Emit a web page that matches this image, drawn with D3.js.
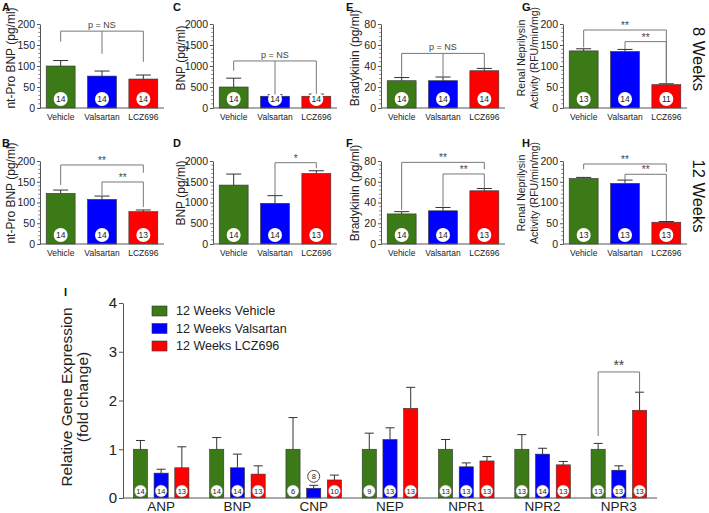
<!DOCTYPE html>
<html><head><meta charset="utf-8">
<script src="https://cdn.jsdelivr.net/npm/d3@7"></script>
<style>body{margin:0;background:#fff} svg{display:block;font-family:"Liberation Sans",Arial,sans-serif}</style>
</head><body><svg id="c" width="709" height="513"></svg>
<script>
// ---------- DATA ----------
const groups = ["Vehicle", "Valsartan", "LCZ696"];
const groupColors = ["#3c7a17", "#0000ff", "#ff0000"];

// 8 weeks
const ntProBNP8 = [100, 76, 69];      const ntProBNP8Sem = [13, 12, 9.5];    const ntProBNP8N = [14, 14, 14];
const bnp8 = [500, 280, 280];         const bnp8Sem = [210, 35, 50];         const bnp8N = [14, 14, 14];
const bradykinin8 = [26, 26, 35.5];   const bradykinin8Sem = [3, 3.5, 2.2];  const bradykinin8N = [14, 14, 14];
const nep8 = [136, 134.5, 55.5];      const nep8Sem = [5, 5, 2.2];           const nep8N = [13, 14, 11];
// 12 weeks
const ntProBNP12 = [122, 107.5, 78];  const ntProBNP12Sem = [8, 8, 4];       const ntProBNP12N = [14, 14, 13];
const bnp12 = [1420, 980, 1700];      const bnp12Sem = [265, 185, 65];       const bnp12N = [14, 14, 13];
const bradykinin12 = [29, 32, 51.3];  const bradykinin12Sem = [2.2, 3.2, 2.2]; const bradykinin12N = [14, 14, 13];
const nep12 = [158, 146, 52.5];       const nep12Sem = [2.5, 8, 1.7];        const nep12N = [13, 13, 13];

// significance brackets (data units): top of bracket, legs [groupIndex, leg end value]
const bracketsA = [{label: "p = NS", top: 183, legs: [[0, 158], [1, 129], [2, 110]]}];
const bracketsC = [{label: "p = NS", top: 1120, legs: [[0, 890], [1, 320], [2, 335]]}];
const bracketsE = [{label: "p = NS", top: 52, legs: [[0, 29.5], [1, 30], [2, 37.7]]}];
const bracketsG = [{label: "**", top: 185.7, legs: [[0, 144.5], [2, 58.8]]},
                   {label: "**", top: 158, legs: [[1, 140], [2, 58.8]]}];
const bracketsB = [{label: "**", top: 190.4, legs: [[0, 142], [2, 171.8]]},
                   {label: "**", top: 149.4, legs: [[1, 118], [2, 89]]}];
const bracketsD = [{label: "*", top: 1959, legs: [[1, 1180], [2, 1824]]}];
const bracketsF = [{label: "**", top: 78.7, legs: [[0, 32.8], [2, 72]]},
                   {label: "**", top: 67.5, legs: [[1, 36], [2, 53.7]]}];
const bracketsH = [{label: "**", top: 192.8, legs: [[0, 180], [2, 173.5]]},
                   {label: "**", top: 168, legs: [[1, 154], [2, 56]]}];

// panel I
const genes = ["ANP", "BNP", "CNP", "NEP", "NPR1", "NPR2", "NPR3"];
const geneSeries = ["12 Weeks Vehicle", "12 Weeks Valsartan", "12 Weeks LCZ696"];
const geneVehicle = [1, 1, 1, 1, 1, 1, 1];
const geneVehicleSem = [0.18, 0.24, 0.65, 0.33, 0.2, 0.3, 0.12];
const geneVehicleN = [14, 14, 6, 9, 13, 13, 13];
const geneValsartan = [0.51, 0.62, 0.2, 1.2, 0.64, 0.9, 0.57];
const geneValsartanSem = [0.08, 0.28, 0.06, 0.24, 0.08, 0.12, 0.09];
const geneValsartanN = [14, 14, 8, 13, 13, 14, 13];
const geneLCZ = [0.62, 0.49, 0.37, 1.84, 0.76, 0.68, 1.8];
const geneLCZSem = [0.43, 0.17, 0.1, 0.43, 0.09, 0.07, 0.37];
const geneLCZN = [13, 13, 10, 13, 13, 13, 13];
const geneBrackets = [{gene: "NPR3", label: "**", top: 2.585, legs: [[0, 1.27], [2, 2.17]]}];

// ---------- DRAW ----------
const svg = d3.select("#c");
const AX = "#555", BR = "#777", ERR = "#333";
const rows = [[108, 24], [244, 161]];

const panels = [
  {L: "A", row: 0, x0: 40, lx: 2, yMax: 200, major: 50, minor: 10, ylab: ["nt-Pro BNP (pg/ml)"], labX: [11], v: ntProBNP8, s: ntProBNP8Sem, n: ntProBNP8N, br: bracketsA},
  {L: "C", row: 0, x0: 213, lx: 173, yMax: 2000, major: 500, minor: 100, ylab: ["BNP (pg/ml)"], labX: [181], v: bnp8, s: bnp8Sem, n: bnp8N, br: bracketsC},
  {L: "E", row: 0, x0: 381, lx: 346, yMax: 80, major: 20, minor: 4, ylab: ["Bradykinin (pg/ml)"], labX: [355], v: bradykinin8, s: bradykinin8Sem, n: bradykinin8N, br: bracketsE},
  {L: "G", row: 0, x0: 563, lx: 522, yMax: 200, major: 50, minor: 10, ylab: ["Renal Neprilysin", "Activity (RFU/min/mg)"], labX: [521, 534], v: nep8, s: nep8Sem, n: nep8N, br: bracketsG},
  {L: "B", row: 1, x0: 40, lx: 2, yMax: 200, major: 50, minor: 10, ylab: ["nt-Pro BNP (pg/ml)"], labX: [11], v: ntProBNP12, s: ntProBNP12Sem, n: ntProBNP12N, br: bracketsB},
  {L: "D", row: 1, x0: 213, lx: 173, yMax: 2000, major: 500, minor: 100, ylab: ["BNP (pg/ml)"], labX: [181], v: bnp12, s: bnp12Sem, n: bnp12N, br: bracketsD},
  {L: "F", row: 1, x0: 381, lx: 346, yMax: 80, major: 20, minor: 4, ylab: ["Bradykinin (pg/ml)"], labX: [355], v: bradykinin12, s: bradykinin12Sem, n: bradykinin12N, br: bracketsF},
  {L: "H", row: 1, x0: 563, lx: 522, yMax: 200, major: 50, minor: 10, ylab: ["Renal Neprilysin", "Activity (RFU/min/mg)"], labX: [521, 534], v: nep12, s: nep12Sem, n: nep12N, br: bracketsH}
];
const rowLabY = [58, 193];
const letterY = [11, 147];

panels.forEach(p => {
  const g = svg.append("g");
  const y = d3.scaleLinear().domain([0, p.yMax]).range(rows[p.row]);
  const W = 124;
  const x = d3.scaleBand().domain(groups).range([p.x0, p.x0 + W]).paddingInner(0.3).paddingOuter(0.15);
  const data = groups.map((k, i) => ({k, i, v: p.v[i], s: p.s[i], n: p.n[i]}));

  // bars
  g.selectAll("rect.bar").data(data).join("rect")
    .attr("x", d => x(d.k)).attr("width", x.bandwidth())
    .attr("y", d => y(d.v)).attr("height", d => y(0) - y(d.v))
    .attr("fill", d => groupColors[d.i]).attr("stroke", "#333").attr("stroke-width", 0.6);
  // error bars
  const cw = x.bandwidth() * 0.26;
  data.forEach(d => {
    const cx = x(d.k) + x.bandwidth() / 2;
    g.append("line").attr("x1", cx).attr("x2", cx).attr("y1", y(d.v)).attr("y2", y(d.v + d.s)).attr("stroke", ERR).attr("stroke-width", 1);
    g.append("line").attr("x1", cx - cw).attr("x2", cx + cw).attr("y1", y(d.v + d.s)).attr("y2", y(d.v + d.s)).attr("stroke", ERR).attr("stroke-width", 1);
  });
  // n circles
  const base = y(0) - 9;
  g.selectAll("circle.n").data(data).join("circle")
    .attr("cx", d => x(d.k) + x.bandwidth() / 2).attr("cy", base).attr("r", 7).attr("fill", "#fff");
  g.selectAll("text.n").data(data).join("text")
    .attr("x", d => x(d.k) + x.bandwidth() / 2).attr("y", base).attr("dy", "0.35em")
    .attr("text-anchor", "middle").attr("font-size", 8.5).attr("fill", "#222").text(d => d.n);

  // y axis
  const ax = g.append("g").attr("transform", `translate(${p.x0},0)`)
    .call(d3.axisLeft(y).tickValues(d3.range(0, p.yMax + 1e-9, p.major)).tickFormat(d3.format("d")).tickSize(3).tickSizeOuter(0).tickPadding(2));
  ax.select(".domain").attr("stroke", AX);
  ax.selectAll(".tick line").attr("stroke", AX);
  ax.selectAll("text").attr("font-size", 10.5).attr("fill", "#222").attr("font-family", "Liberation Sans, Arial, sans-serif");
  const minors = d3.range(0, p.yMax, p.minor).filter(v => Math.abs(v / p.major - Math.round(v / p.major)) > 1e-6);
  g.selectAll("line.minor").data(minors).join("line")
    .attr("x1", p.x0 - 1.8).attr("x2", p.x0).attr("y1", d => y(d)).attr("y2", d => y(d)).attr("stroke", AX).attr("stroke-width", 0.7);
  // x axis
  g.append("line").attr("x1", p.x0).attr("x2", p.x0 + W).attr("y1", y(0)).attr("y2", y(0)).attr("stroke", AX);
  g.selectAll("text.cat").data(data).join("text")
    .attr("x", d => x(d.k) + x.bandwidth() / 2).attr("y", y(0) + 12)
    .attr("text-anchor", "middle").attr("font-size", 8.5).attr("fill", "#222").text(d => d.k);

  // y label
  p.ylab.forEach((t, i) => {
    g.append("text").attr("transform", `translate(${p.labX[i]},${rowLabY[p.row]}) rotate(-90)`)
      .attr("text-anchor", "middle").attr("dy", "0.35em").attr("font-size", p.ylab.length > 1 ? 10.5 : 12).attr("fill", "#222").text(t);
  });
  // panel letter
  g.append("text").attr("x", p.lx).attr("y", letterY[p.row]).attr("font-size", 11).attr("font-weight", "bold").attr("fill", "#111").text(p.L);

  // brackets
  p.br.forEach(b => {
    const xs = b.legs.map(l => x(groups[l[0]]) + x.bandwidth() / 2);
    const yt = y(b.top);
    g.append("line").attr("x1", d3.min(xs)).attr("x2", d3.max(xs)).attr("y1", yt).attr("y2", yt).attr("stroke", BR);
    b.legs.forEach((l, i) => {
      g.append("line").attr("x1", xs[i]).attr("x2", xs[i]).attr("y1", yt).attr("y2", y(l[1])).attr("stroke", BR);
    });
    g.append("text").attr("x", (d3.min(xs) + d3.max(xs)) / 2).attr("y", yt - (b.label === "p = NS" ? 3 : 1))
      .attr("text-anchor", "middle").attr("font-size", b.label === "p = NS" ? 9 : 10).attr("fill", "#444").text(b.label);
  });
});

// week labels
[["8 Weeks", 59], ["12 Weeks", 196]].forEach(([t, cy]) => {
  svg.append("text").attr("transform", `translate(699,${cy}) rotate(90)`).attr("text-anchor", "middle").attr("dy", "0.35em")
    .attr("font-size", 16.5).attr("fill", "#111").text(t);
});

// ---------- PANEL I ----------
(function () {
  const g = svg.append("g");
  const x0 = 123, x1 = 657;
  const y = d3.scaleLinear().domain([0, 4]).range([498, 303]);
  const xg = d3.scaleBand().domain(genes).range([x0, x1]).padding(0);
  const xs = d3.scaleBand().domain([0, 1, 2]).range([0, xg.bandwidth()]).paddingInner(0.317).paddingOuter(0.5);
  const vals = [geneVehicle, geneValsartan, geneLCZ];
  const sems = [geneVehicleSem, geneValsartanSem, geneLCZSem];
  const ns = [geneVehicleN, geneValsartanN, geneLCZN];
  const data = [];
  genes.forEach((gn, gi) => [0, 1, 2].forEach(si => data.push({gn, si, v: vals[si][gi], s: sems[si][gi], n: ns[si][gi]})));
  const cxOf = d => xg(d.gn) + xs(d.si) + xs.bandwidth() / 2;

  g.selectAll("rect").data(data).join("rect")
    .attr("x", d => xg(d.gn) + xs(d.si)).attr("width", xs.bandwidth())
    .attr("y", d => y(d.v)).attr("height", d => y(0) - y(d.v))
    .attr("fill", d => groupColors[d.si]).attr("stroke", "#333").attr("stroke-width", 0.6);
  const cw = 4.5;
  data.forEach(d => {
    const cx = cxOf(d);
    g.append("line").attr("x1", cx).attr("x2", cx).attr("y1", y(d.v)).attr("y2", y(d.v + d.s)).attr("stroke", ERR);
    g.append("line").attr("x1", cx - cw).attr("x2", cx + cw).attr("y1", y(d.v + d.s)).attr("y2", y(d.v + d.s)).attr("stroke", ERR);
  });
  const r = 6;
  const small = d => (y(0) - y(d.v) < 2 * r + 2);
  const cyOf = d => small(d) ? y(d.v + d.s) - r - 3 : y(0) - 7;
  g.selectAll("circle").data(data).join("circle")
    .attr("cx", cxOf).attr("cy", cyOf).attr("r", r).attr("fill", "#fff")
    .attr("stroke", d => small(d) ? "#333" : "#777").attr("stroke-width", d => small(d) ? 0.9 : 0.4);
  g.selectAll("text.n").data(data).join("text")
    .attr("x", cxOf).attr("y", cyOf).attr("dy", "0.35em").attr("text-anchor", "middle")
    .attr("font-size", 7.5).attr("fill", "#222").text(d => d.n);

  // axes
  const ax = g.append("g").attr("transform", `translate(${x0},0)`)
    .call(d3.axisLeft(y).tickValues([0, 1, 2, 3, 4]).tickFormat(d3.format("d")).tickSize(4).tickSizeOuter(0).tickPadding(2));
  ax.select(".domain").attr("stroke", AX);
  ax.selectAll(".tick line").attr("stroke", AX);
  ax.selectAll("text").attr("font-size", 15).attr("fill", "#222").attr("font-family", "Liberation Sans, Arial, sans-serif");
  g.append("line").attr("x1", x0).attr("x2", x1).attr("y1", y(0)).attr("y2", y(0)).attr("stroke", AX);
  g.selectAll("text.cat").data(genes).join("text")
    .attr("x", d => xg(d) + xg.bandwidth() / 2).attr("y", 511)
    .attr("text-anchor", "middle").attr("font-size", 13.5).attr("fill", "#222").text(d => d);

  // y label
  [["Relative Gene Expression", 67], ["(fold change)", 83]].forEach(([t, lx]) => {
    g.append("text").attr("transform", `translate(${lx},397) rotate(-90)`).attr("text-anchor", "middle").attr("dy", "0.35em")
      .attr("font-size", 15.5).attr("fill", "#222").text(t);
  });
  g.append("text").attr("x", 64).attr("y", 296).attr("font-size", 11).attr("font-weight", "bold").attr("fill", "#111").text("I");

  // legend
  const legY = [311, 328.5, 346];
  geneSeries.forEach((t, i) => {
    g.append("rect").attr("x", 152).attr("y", legY[i] - 5).attr("width", 15).attr("height", 10)
      .attr("fill", groupColors[i]).attr("stroke", "#333").attr("stroke-width", 0.6);
    g.append("text").attr("x", 176).attr("y", legY[i]).attr("dy", "0.35em").attr("font-size", 12.5).attr("fill", "#222").text(t);
  });

  // bracket
  geneBrackets.forEach(b => {
    const xsB = b.legs.map(l => xg(b.gene) + xs(l[0]) + xs.bandwidth() / 2);
    const yt = y(b.top);
    g.append("line").attr("x1", d3.min(xsB)).attr("x2", d3.max(xsB)).attr("y1", yt).attr("y2", yt).attr("stroke", BR);
    b.legs.forEach((l, i) => g.append("line").attr("x1", xsB[i]).attr("x2", xsB[i]).attr("y1", yt).attr("y2", y(l[1])).attr("stroke", BR));
    g.append("text").attr("x", (xsB[0] + xsB[1]) / 2).attr("y", yt - 2).attr("text-anchor", "middle")
      .attr("font-size", 14).attr("fill", "#444").text(b.label);
  });
})();
</script></body></html>
